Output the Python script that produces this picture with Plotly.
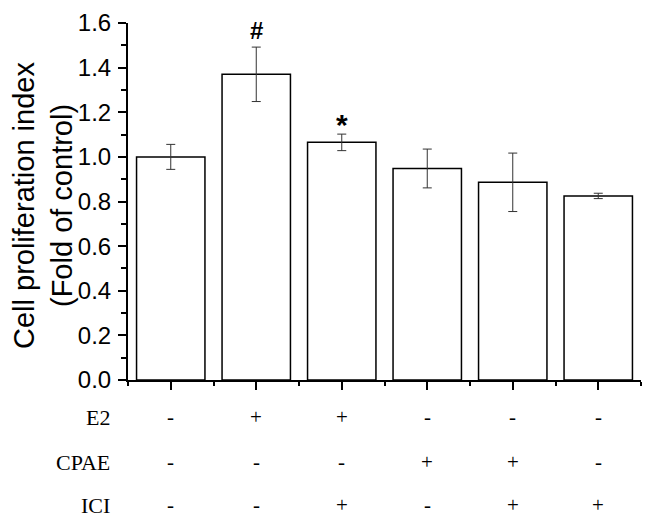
import plotly.graph_objects as go

# Данные
groups = [1, 2, 3, 4, 5, 6]
values = [1.0, 1.37, 1.065, 0.948, 0.886, 0.825]
errors = [0.056, 0.122, 0.037, 0.087, 0.131, 0.012]
marks = ['', '#', '*', '', '', '']
e2 = ['-', '+', '+', '-', '-', '-']
cpae = ['-', '-', '-', '+', '+', '-']
ici = ['-', '-', '+', '-', '+', '+']
y_ticks = [0.0, 0.2, 0.4, 0.6, 0.8, 1.0, 1.2, 1.4, 1.6]
y_title = ['Cell proliferation index', '(Fold of control)']

# Отступ страницы (margin у body 8px) — компенсируем размером фигуры
pad = 8
W, H = 654 - pad, 526 - pad
left, right, top, bottom = 128 - pad, 641 - pad, 23 - pad, 380 - pad


def px_x(x):
    """пиксель окна -> доля ширины области построения"""
    return (x - pad - left) / (right - left)


def px_y(y):
    return (bottom - (y - pad)) / (bottom - top)


fig = go.Figure()

fig.add_trace(go.Bar(
    x=groups,
    y=values,
    width=0.8,
    marker=dict(color='white', line=dict(color='black', width=1.5)),
    error_y=dict(type='data', array=errors, visible=True,
                 color='#333333', thickness=1, width=4.5),
    showlegend=False
))

# Значки значимости (размер, сдвиг)
mark_style = {'#': (24, 1), '*': (30, -9)}
for g, v, e, m in zip(groups, values, errors, marks):
    if m:
        size, shift = mark_style[m]
        fig.add_annotation(x=g, y=v + e, text=f'<b>{m}</b>', showarrow=False,
                           yanchor='bottom', yshift=shift,
                           font=dict(family='Liberation Sans', size=size, color='black'))

# Подпись оси Y двумя строками
for line, xc in zip(y_title, [24, 62]):
    fig.add_annotation(x=px_x(xc), y=px_y(206), xref='paper', yref='paper',
                       text=line, textangle=-90, showarrow=False,
                       xanchor='center', yanchor='middle',
                       font=dict(family='Liberation Sans', size=29, color='black'))

# Таблица условий под осью
rows = [('E2', e2, 417), ('CPAE', cpae, 462), ('ICI', ici, 505)]
for name, signs, ypx in rows:
    fig.add_annotation(x=px_x(112), y=px_y(ypx), xref='paper', yref='paper',
                       text=name, showarrow=False, xanchor='right', yanchor='middle',
                       font=dict(family='Liberation Serif', size=22, color='black'))
    for g, s in zip(groups, signs):
        fig.add_annotation(x=g, y=px_y(ypx), xref='x', yref='paper', text=s,
                           showarrow=False, xanchor='center', yanchor='middle',
                           font=dict(family='Liberation Serif', size=21, color='black'))

fig.update_layout(
    width=W, height=H,
    margin=dict(l=left, r=W - right, t=top, b=H - bottom, autoexpand=False),
    paper_bgcolor='white',
    plot_bgcolor='white',
    font=dict(family='Liberation Sans', size=24, color='black'),
    xaxis=dict(
        range=[0.5, 6.5],
        tickvals=groups,
        showticklabels=False,
        automargin=False,
        ticks='outside', ticklen=8, tickwidth=2, tickcolor='black',
        minor=dict(tickvals=[0.5, 1.5, 2.5, 3.5, 4.5, 5.5, 6.5], ticks='outside',
                   ticklen=4, tickwidth=2, tickcolor='black'),
        showline=True, linecolor='black', linewidth=2,
        showgrid=False, zeroline=False
    ),
    yaxis=dict(
        range=[0, 1.6],
        tickvals=y_ticks,
        ticktext=[f'{t:.1f}' for t in y_ticks],
        automargin=False,
        ticks='outside', ticklen=8, tickwidth=2, tickcolor='black',
        minor=dict(dtick=0.1, ticks='outside', ticklen=5, tickwidth=2, tickcolor='black'),
        tickfont=dict(size=24),
        ticklabelstandoff=2,
        showline=True, linecolor='black', linewidth=2,
        showgrid=False, zeroline=False
    )
)

fig.write_html("out.html")
